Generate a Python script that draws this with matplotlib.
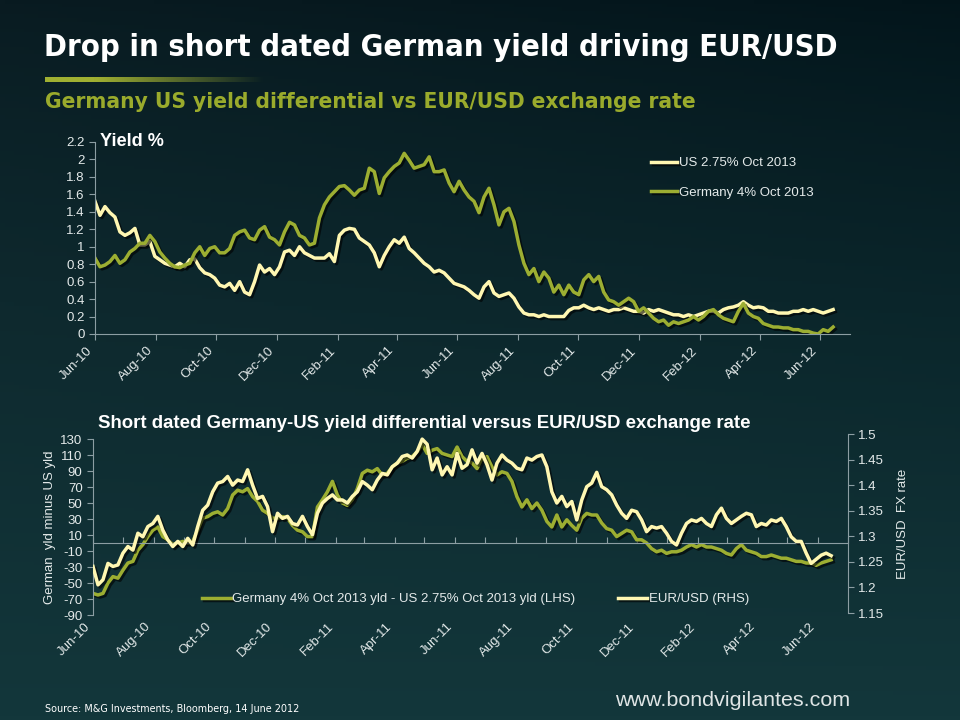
import numpy as np
import pandas as pd
import matplotlib
matplotlib.use('Agg')
import matplotlib.pyplot as plt
import matplotlib.dates as mdates
import matplotlib.patheffects as pe
import matplotlib.transforms as mtransforms
from matplotlib import font_manager

# values, one point about every 5 days, Jun 2010 - 14 Jun 2012
us_yield = [1.52, 1.36, 1.46, 1.39, 1.34, 1.17, 1.13, 1.16, 1.21, 1.02,
            1.02, 1.06, 0.89, 0.85, 0.81, 0.79, 0.77, 0.81, 0.77, 0.85,
            0.86, 0.76, 0.70, 0.68, 0.64, 0.56, 0.54, 0.58, 0.50, 0.60,
            0.48, 0.45, 0.60, 0.79, 0.71, 0.75, 0.68, 0.77, 0.94, 0.96,
            0.90, 1.00, 0.93, 0.90, 0.87, 0.87, 0.87, 0.92, 0.83, 1.13,
            1.19, 1.21, 1.20, 1.10, 1.06, 1.02, 0.93, 0.77, 0.90, 1.00,
            1.08, 1.04, 1.11, 0.98, 0.93, 0.87, 0.81, 0.77, 0.71, 0.73,
            0.70, 0.64, 0.58, 0.56, 0.54, 0.50, 0.45, 0.41, 0.54, 0.60,
            0.47, 0.43, 0.45, 0.47, 0.41, 0.31, 0.24, 0.22, 0.22, 0.20,
            0.22, 0.20, 0.20, 0.20, 0.20, 0.27, 0.30, 0.30, 0.33, 0.30,
            0.28, 0.30, 0.28, 0.26, 0.28, 0.28, 0.30, 0.28, 0.26, 0.26,
            0.24, 0.28, 0.26, 0.28, 0.26, 0.24, 0.22, 0.22, 0.20, 0.22,
            0.20, 0.22, 0.24, 0.26, 0.26, 0.24, 0.28, 0.30, 0.31, 0.33,
            0.37, 0.33, 0.30, 0.31, 0.30, 0.26, 0.26, 0.24, 0.24, 0.24,
            0.26, 0.26, 0.28, 0.26, 0.28, 0.26, 0.24, 0.26, 0.28]

de_yield = [0.87, 0.77, 0.79, 0.83, 0.90, 0.81, 0.85, 0.94, 0.98, 1.04,
            1.04, 1.13, 1.06, 0.94, 0.87, 0.81, 0.77, 0.76, 0.79, 0.81,
            0.93, 1.00, 0.90, 0.98, 1.00, 0.93, 0.93, 0.98, 1.13, 1.17,
            1.19, 1.10, 1.08, 1.19, 1.23, 1.11, 1.08, 1.02, 1.17, 1.28,
            1.25, 1.13, 1.10, 1.02, 1.04, 1.33, 1.48, 1.57, 1.63, 1.69,
            1.70, 1.65, 1.59, 1.65, 1.67, 1.90, 1.86, 1.61, 1.79, 1.86,
            1.92, 1.96, 2.07, 1.99, 1.90, 1.92, 1.94, 2.03, 1.86, 1.86,
            1.88, 1.73, 1.63, 1.75, 1.65, 1.57, 1.52, 1.39, 1.57, 1.67,
            1.48, 1.25, 1.40, 1.44, 1.29, 1.02, 0.81, 0.68, 0.75, 0.60,
            0.71, 0.64, 0.48, 0.56, 0.45, 0.56, 0.48, 0.45, 0.62, 0.68,
            0.60, 0.66, 0.48, 0.39, 0.37, 0.33, 0.37, 0.41, 0.37, 0.26,
            0.30, 0.24, 0.18, 0.14, 0.16, 0.10, 0.14, 0.12, 0.14, 0.16,
            0.20, 0.16, 0.20, 0.26, 0.28, 0.22, 0.18, 0.16, 0.14, 0.26,
            0.35, 0.24, 0.20, 0.18, 0.12, 0.10, 0.08, 0.08, 0.07, 0.07,
            0.05, 0.05, 0.03, 0.03, 0.01, 0.00, 0.05, 0.03, 0.08]

# Germany minus US, bp (left axis of the lower chart)
yield_diff = [-63, -65, -63, -50, -42, -44, -34, -25, -23, -9,
              -2, 8, 16, 20, 8, 4, -2, 0, 2, 0,
              2, 16, 31, 33, 37, 39, 35, 43, 60, 66,
              64, 68, 58, 52, 41, 37, 31, 31, 33, 31,
              22, 16, 14, 8, 8, 45, 54, 64, 77, 60,
              50, 47, 54, 68, 87, 91, 89, 93, 85, 87,
              95, 100, 102, 106, 108, 114, 123, 112, 116, 118,
              112, 110, 108, 120, 108, 102, 100, 93, 106, 108,
              95, 85, 89, 87, 77, 58, 45, 54, 43, 50,
              41, 27, 20, 35, 20, 29, 22, 16, 31, 37,
              35, 35, 25, 18, 16, 8, 12, 16, 14, 4,
              4, 0, -7, -11, -9, -13, -11, -11, -9, -5,
              -2, -5, -2, -5, -5, -7, -9, -13, -15, -7,
              -2, -9, -11, -13, -17, -17, -15, -17, -19, -19,
              -21, -23, -23, -25, -25, -28, -25, -23, -21]

eurusd = [1.241, 1.205, 1.215, 1.247, 1.241, 1.244, 1.267, 1.280, 1.273, 1.306,
          1.299, 1.319, 1.325, 1.339, 1.312, 1.293, 1.280, 1.290, 1.280, 1.296,
          1.283, 1.319, 1.351, 1.361, 1.387, 1.404, 1.407, 1.417, 1.400, 1.410,
          1.407, 1.430, 1.400, 1.374, 1.378, 1.358, 1.309, 1.345, 1.335, 1.339,
          1.325, 1.322, 1.339, 1.319, 1.303, 1.345, 1.365, 1.374, 1.381, 1.371,
          1.371, 1.365, 1.378, 1.387, 1.407, 1.400, 1.391, 1.410, 1.423, 1.420,
          1.436, 1.443, 1.456, 1.459, 1.453, 1.466, 1.490, 1.480, 1.430, 1.453,
          1.420, 1.436, 1.420, 1.462, 1.433, 1.440, 1.469, 1.443, 1.462, 1.440,
          1.410, 1.443, 1.459, 1.449, 1.443, 1.433, 1.430, 1.453, 1.449, 1.456,
          1.459, 1.436, 1.387, 1.365, 1.378, 1.358, 1.368, 1.332, 1.371, 1.397,
          1.404, 1.425, 1.397, 1.391, 1.381, 1.361, 1.345, 1.335, 1.351, 1.348,
          1.332, 1.309, 1.319, 1.316, 1.319, 1.306, 1.290, 1.283, 1.306, 1.325,
          1.332, 1.329, 1.335, 1.325, 1.319, 1.342, 1.355, 1.335, 1.325, 1.332,
          1.339, 1.345, 1.342, 1.319, 1.325, 1.322, 1.332, 1.329, 1.335, 1.319,
          1.299, 1.290, 1.290, 1.267, 1.247, 1.255, 1.263, 1.267, 1.262]

dates = pd.date_range('2010-06-01', '2012-06-14', periods=len(us_yield))
tick_dates = pd.date_range('2010-06-01', '2012-06-01', freq='2MS')
yield_ticks = [0, 0.2, 0.4, 0.6, 0.8, 1, 1.2, 1.4, 1.6, 1.8, 2, 2.2]
diff_ticks = list(range(-90, 131, 20))
fx_ticks = [1.15, 1.2, 1.25, 1.3, 1.35, 1.4, 1.45, 1.5]

CREAM = '#fff7b2'
GREEN = '#9cae32'
TXT = '#e4eaea'
AXC = '#8c9ea3'
FS = 9.5
LW = 2.5


def find_narrow(bold):
    # look for any condensed / narrow face on the system
    for f in font_manager.fontManager.ttflist:
        w = f.weight if isinstance(f.weight, int) else font_manager.weight_dict.get(f.weight, 400)
        cond = ('Narrow' in f.name or 'Condensed' in f.name
                or f.stretch in ('condensed', 'semi-condensed', 'extra-condensed'))
        if cond and (w >= 600) == bold and 'Oblique' not in f.fname and 'Italic' not in f.fname:
            return font_manager.FontProperties(fname=f.fname)
    return font_manager.FontProperties(family='Liberation Sans', weight='bold' if bold else 'normal')


plt.rcParams['font.family'] = ['Liberation Sans', 'DejaVu Sans']
plt.rcParams['font.size'] = FS
plt.rcParams['axes.unicode_minus'] = False

fig = plt.figure(figsize=(9.6, 7.2), dpi=100)

# background gradient
bg = fig.add_axes([0, 0, 1, 1], zorder=-10)
yy, xx = np.mgrid[0:1:200j, 0:1:200j]
top = np.array([9, 27, 33]) / 255
bot = np.array([19, 55, 59]) / 255
img = top + (bot - top) * (yy[..., None] ** 0.8)
img = img - 0.025 * (xx[..., None] * (1 - yy[..., None]))
bg.imshow(np.clip(img, 0, 1), aspect='auto', extent=[0, 1, 1, 0])
bg.axis('off')

shadow = [pe.SimpleLineShadow(offset=(1.5, -1.5), shadow_color='black', alpha=0.6), pe.Normal()]


def px(x, y):
    return x / 960, 1 - y / 720


def fit_width(t, width_px):
    r = fig.canvas.get_renderer()
    w = t.get_window_extent(renderer=r).width
    t.set_fontsize(t.get_fontsize() * width_px / w)


# titles
t1 = fig.text(*px(44, 47), 'Drop in short dated German yield driving EUR/USD',
              fontproperties=find_narrow(True), size=28, color='white', va='center')
fit_width(t1, 793)
grad = fig.add_axes([45 / 960, 1 - 82 / 720, 220 / 960, 5 / 720])
g = np.linspace(0, 1, 100)
rgba = np.zeros((1, 100, 4))
rgba[..., :3] = np.array([160, 176, 50]) / 255
rgba[..., 3] = np.clip(1.3 - 1.3 * g, 0, 1)
grad.imshow(rgba, aspect='auto')
grad.axis('off')
t2 = fig.text(*px(45, 102), 'Germany US yield differential vs EUR/USD exchange rate',
              fontproperties=find_narrow(True), size=20, color='#9aab2c', va='center')
fit_width(t2, 649)

# top chart
ax1 = fig.add_axes([95 / 960, 1 - 334 / 720, 755 / 960, 192 / 720])
ax1.set_facecolor('none')
ax1.plot(dates, us_yield, color=CREAM, lw=LW, path_effects=shadow, label='US 2.75% Oct 2013')
ax1.plot(dates, de_yield, color=GREEN, lw=LW, path_effects=shadow, label='Germany 4% Oct 2013')
ax1.set_xlim(pd.Timestamp('2010-06-01'), pd.Timestamp('2012-07-01'))
ax1.set_ylim(0, 2.2)
ax1.set_yticks(yield_ticks)
ax1.set_yticklabels(['%g' % v for v in yield_ticks])
ax1.set_xticks(tick_dates)
ax1.xaxis.set_major_formatter(mdates.DateFormatter('%b-%y'))
for s in ['top', 'right']:
    ax1.spines[s].set_visible(False)
for s in ['left', 'bottom']:
    ax1.spines[s].set_color(AXC)
    ax1.spines[s].set_linewidth(0.8)
ax1.tick_params(colors=AXC, labelcolor=TXT, labelsize=FS, length=4, width=0.8)
plt.setp(ax1.get_xticklabels(), rotation=45, ha='right')
t3 = fig.text(*px(100, 141), 'Yield %', weight='bold', size=13, color='white', va='center')
fit_width(t3, 64)
leg1 = ax1.legend(loc='upper left', bbox_to_anchor=px(651, 157), bbox_transform=fig.transFigure,
                  frameon=False, fontsize=FS, handlelength=2.0, handletextpad=0.12,
                  labelspacing=1.32, borderpad=0, borderaxespad=0)
for t in leg1.get_texts():
    t.set_color(TXT)

# bottom chart
ax2 = fig.add_axes([93 / 960, 1 - 615 / 720, 755 / 960, 176 / 720])
ax2.set_facecolor('none')
ax2.plot(dates, yield_diff, color=GREEN, lw=LW, path_effects=shadow,
         label='Germany 4% Oct 2013 yld - US 2.75% Oct 2013 yld (LHS)')
ax2.set_xlim(pd.Timestamp('2010-06-01'), pd.Timestamp('2012-07-01'))
ax2.set_ylim(-90, 130)
ax2.set_yticks(diff_ticks)
ax2.spines['bottom'].set_position(('data', 0))
ax2.xaxis.set_major_locator(mdates.MonthLocator())
for s in ['top', 'right']:
    ax2.spines[s].set_visible(False)
for s in ['left', 'bottom']:
    ax2.spines[s].set_color(AXC)
    ax2.spines[s].set_linewidth(0.8)
ax2.tick_params(axis='y', colors=AXC, labelcolor=TXT, labelsize=FS, length=4, width=0.8)
ax2.tick_params(axis='x', colors=AXC, direction='in', length=4, width=0.8, labelbottom=False)
ax2.set_ylabel('German  yld minus US yld', color=TXT, size=FS, labelpad=3)

lab_tr = mtransforms.offset_copy(ax2.get_xaxis_transform(), fig=fig, y=-4, units='points')
for d in tick_dates:
    ax2.text(mdates.date2num(d), 0, d.strftime('%b-%y'), transform=lab_tr, rotation=45,
             ha='right', va='top', color=TXT, size=FS)

ax3 = fig.add_axes([93 / 960, 1 - 613 / 720, 755 / 960, 179 / 720], sharex=ax2)
ax3.set_facecolor('none')
ax3.plot(dates, eurusd, color=CREAM, lw=LW, path_effects=shadow, label='EUR/USD (RHS)')
ax3.set_ylim(1.15, 1.5)
ax3.set_yticks(fx_ticks)
ax3.set_yticklabels(['%g' % v for v in fx_ticks])
ax3.yaxis.tick_right()
ax3.yaxis.set_label_position('right')
for s in ['top', 'left', 'bottom']:
    ax3.spines[s].set_visible(False)
ax3.spines['right'].set_color(AXC)
ax3.spines['right'].set_linewidth(0.8)
ax3.tick_params(axis='y', colors=AXC, labelcolor=TXT, labelsize=FS, length=4, width=0.8)
ax3.tick_params(axis='x', bottom=False, labelbottom=False)
ax3.set_ylabel('EUR/USD  FX rate', color=TXT, size=FS, labelpad=9)

h2, l2 = ax2.get_legend_handles_labels()
h3, l3 = ax3.get_legend_handles_labels()
leg2 = ax3.legend(h2 + h3, l2 + l3, ncol=2, loc='upper left', bbox_to_anchor=px(202, 593),
                  bbox_transform=fig.transFigure, frameon=False, fontsize=FS,
                  handlelength=2.2, handletextpad=0.1, columnspacing=3.25,
                  borderpad=0, borderaxespad=0)
for t in leg2.get_texts():
    t.set_color(TXT)

t4 = fig.text(*px(98, 423), 'Short dated Germany-US yield differential versus EUR/USD exchange rate',
              weight='bold', size=13.5, color='white', va='center')
fit_width(t4, 655)

# footer
t5 = fig.text(*px(45, 709), 'Source: M&G Investments, Bloomberg, 14 June 2012',
              fontproperties=find_narrow(False), size=9, color='white', va='center')
fit_width(t5, 256)
t6 = fig.text(*px(615, 701), 'www.bondvigilantes.com', size=15, color='#dfe5e5', va='center')
fit_width(t6, 236)

fig.savefig('out.png', dpi=100)
